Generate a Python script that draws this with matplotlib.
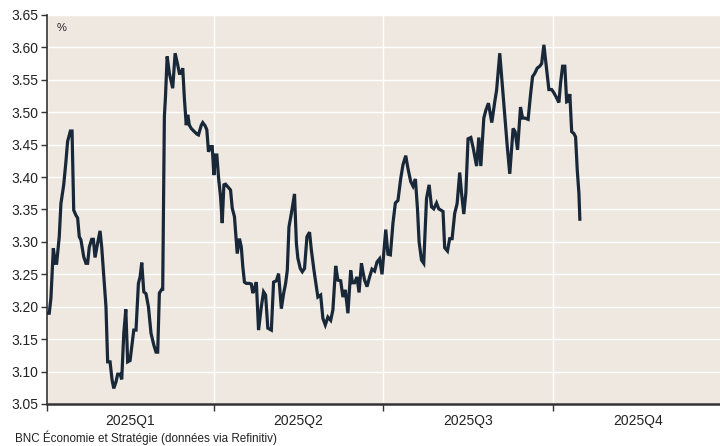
import matplotlib
matplotlib.use("Agg")
import matplotlib.pyplot as plt
import matplotlib.dates as mdates
import matplotlib.ticker as mticker
import pandas as pd
import numpy as np

plt.rcParams['font.family'] = ['Liberation Sans', 'DejaVu Sans']

# Days since 2025-01-01 and yield values (%)
days = [0.3, 1.2, 2.1, 3.4, 4.5, 5.2, 6.6, 7.5, 9.0, 10.2, 11.1, 12.6, 13.5, 14.4,
        15.6, 16.5, 17.4, 18.3, 19.8, 21.0, 21.9, 22.8, 24.1, 25.0, 25.9, 27.3,
        28.6, 29.5, 30.4, 31.8, 32.7, 34.0, 35.1, 36.0, 37.2, 38.1, 39.4, 40.3,
        41.4, 42.5, 43.5, 44.8, 45.7, 46.8, 48.0, 49.3, 50.2, 51.1, 52.2, 53.4,
        54.7, 56.1, 57.6, 58.8, 59.7, 60.6, 61.9, 62.4, 63.3, 63.9, 64.8, 66.0,
        67.8, 69.1, 70.5, 71.4, 72.4, 73.2, 74.1, 75.1, 75.9, 76.8, 77.8, 79.5,
        81.0, 81.7, 83.2, 84.0, 85.3, 86.2, 87.1, 88.2, 89.1, 90.0, 90.9, 91.6,
        92.5, 93.6, 94.5, 95.4, 96.3, 97.5, 99.0, 99.9, 101.1, 102.6, 103.8, 104.8,
        105.6, 106.5, 107.5, 109.2, 110.2, 111.0, 111.9, 112.9, 114.1, 115.6,
        116.8, 117.9, 119.1, 121.0, 122.2, 123.7, 124.9, 126.4, 127.6, 128.7,
        129.6, 130.5, 131.8, 133.5, 134.5, 135.3, 136.6, 137.7, 138.9, 140.2,
        141.6, 142.6, 144.0, 145.3, 146.1, 147.6, 148.8, 150.1, 151.5, 153.0,
        154.2, 155.7, 156.9, 158.4, 159.6, 160.9, 162.3, 163.8, 164.7, 165.9,
        167.2, 168.3, 169.6, 170.4, 171.3, 172.6, 174.0, 175.3, 176.7, 178.0,
        179.4, 180.7, 182.7, 183.9, 185.2, 186.6, 187.9, 189.3, 190.8, 192.0,
        193.5, 194.7, 196.2, 197.4, 198.7, 199.8, 200.7, 202.0, 203.2, 204.7,
        206.1, 207.4, 208.6, 210.1, 211.3, 212.4, 213.6, 214.5, 216.0, 217.2,
        218.5, 219.9, 221.2, 222.6, 223.6, 224.8, 225.9, 227.1, 228.6, 229.8,
        231.7, 232.9, 234.0, 235.6, 236.7, 238.1, 239.9, 241.5, 242.5, 244.2,
        245.5, 246.9, 248.2, 249.6, 250.9, 251.4, 252.5, 253.8, 255.4, 256.5,
        257.7, 259.5, 260.8, 261.9, 263.1, 264.4, 265.8, 266.8, 268.0, 269.5,
        270.7, 272.2, 273.4, 274.9, 276.1, 277.0, 278.1, 279.3, 280.3, 281.1,
        282.0, 283.0, 284.2, 285.1, 286.0, 286.9, 287.4]
values = [3.190, 3.190, 3.213, 3.290, 3.267, 3.267, 3.308, 3.359, 3.388, 3.424,
          3.455, 3.471, 3.471, 3.349, 3.341, 3.337, 3.308, 3.303, 3.277, 3.267,
          3.267, 3.292, 3.304, 3.304, 3.276, 3.298, 3.317, 3.292, 3.256, 3.200,
          3.115, 3.115, 3.087, 3.074, 3.084, 3.096, 3.096, 3.088, 3.159, 3.196,
          3.115, 3.117, 3.138, 3.164, 3.164, 3.236, 3.246, 3.268, 3.223, 3.220,
          3.200, 3.159, 3.141, 3.130, 3.130, 3.221, 3.227, 3.227, 3.493, 3.524,
          3.586, 3.560, 3.537, 3.591, 3.573, 3.560, 3.560, 3.568, 3.521, 3.480,
          3.496, 3.480, 3.475, 3.470, 3.466, 3.465, 3.480, 3.484, 3.479, 3.473,
          3.439, 3.447, 3.447, 3.403, 3.434, 3.434, 3.400, 3.370, 3.329, 3.388,
          3.389, 3.385, 3.380, 3.352, 3.339, 3.282, 3.305, 3.292, 3.262, 3.238,
          3.236, 3.236, 3.235, 3.221, 3.228, 3.238, 3.164, 3.200, 3.223, 3.218,
          3.167, 3.164, 3.238, 3.240, 3.251, 3.197, 3.220, 3.236, 3.256, 3.323,
          3.344, 3.374, 3.298, 3.275, 3.259, 3.254, 3.259, 3.308, 3.315, 3.287,
          3.256, 3.231, 3.215, 3.218, 3.182, 3.172, 3.184, 3.179, 3.195, 3.263,
          3.241, 3.240, 3.215, 3.226, 3.190, 3.256, 3.237, 3.237, 3.246, 3.222,
          3.267, 3.254, 3.241, 3.231, 3.246, 3.258, 3.255, 3.269, 3.274, 3.250,
          3.319, 3.281, 3.280, 3.329, 3.360, 3.364, 3.398, 3.419, 3.433, 3.413,
          3.393, 3.386, 3.397, 3.352, 3.300, 3.272, 3.267, 3.367, 3.388, 3.354,
          3.351, 3.360, 3.351, 3.349, 3.347, 3.291, 3.286, 3.305, 3.305, 3.344,
          3.359, 3.407, 3.375, 3.343, 3.375, 3.459, 3.461, 3.446, 3.417, 3.461,
          3.417, 3.491, 3.503, 3.514, 3.484, 3.516, 3.534, 3.591, 3.545, 3.496,
          3.449, 3.405, 3.457, 3.475, 3.470, 3.442, 3.508, 3.491, 3.491, 3.489,
          3.527, 3.555, 3.560, 3.568, 3.571, 3.575, 3.604, 3.565, 3.535, 3.535,
          3.530, 3.522, 3.515, 3.545, 3.571, 3.571, 3.516, 3.517, 3.528, 3.470,
          3.467, 3.462, 3.411, 3.375, 3.335]

quarter_labels = ["2025Q1", "2025Q2", "2025Q3", "2025Q4"]
y_ticks = [3.05, 3.10, 3.15, 3.20, 3.25, 3.30, 3.35, 3.40, 3.45, 3.50, 3.55, 3.60, 3.65]
unit_label = "%"
source_text = "BNC Économie et Stratégie (données via Refinitiv)"

base = pd.Timestamp("2025-01-01")
dates = base + pd.to_timedelta(days, unit="D")

fig = plt.figure(figsize=(7.2, 4.46), dpi=100)
ax = fig.add_axes([0.0653, 0.0942, 0.9347, 0.8722])
ax.set_facecolor("#EEE8E1")

ax.plot(dates, values, color="#182838", linewidth=2.3, solid_joinstyle="miter", zorder=3)

ax.set_ylim(3.05, 3.65)
ax.set_yticks(y_ticks)
ax.yaxis.set_major_formatter(mticker.FormatStrFormatter("%.2f"))
ax.set_xlim(pd.Timestamp("2025-01-01"), pd.Timestamp("2025-12-30"))

q_starts = pd.to_datetime(["2025-01-01", "2025-04-01", "2025-07-01", "2025-10-01"])
q_ends = pd.to_datetime(["2025-04-01", "2025-07-01", "2025-10-01", "2026-01-01"])
mids = [a + (b - a) / 2 for a, b in zip(q_starts, q_ends)]
ax.set_xticks(q_starts)
ax.set_xticklabels([])
ax.set_xticks(mids, minor=True)
ax.set_xticklabels(quarter_labels, minor=True)
ax.tick_params(axis="x", which="minor", length=0, labelsize=10, pad=7, colors="#222222")
ax.tick_params(axis="x", which="major", length=5, width=1, color="#333333", direction="out")
ax.tick_params(axis="y", length=4, width=1, color="#333333", labelsize=10, labelcolor="#222222", pad=2)

ax.grid(True, axis="y", color="white", linewidth=1.0, zorder=0)
ax.grid(True, axis="x", which="major", color="white", linewidth=1.0, zorder=0)
ax.set_axisbelow(True)

for s in ["top", "right"]:
    ax.spines[s].set_visible(False)
ax.spines["left"].set_color("#333333")
ax.spines["left"].set_linewidth(1.2)
ax.spines["bottom"].set_color("#333333")
ax.spines["bottom"].set_linewidth(1.8)

ax.text(0.015, 0.98, unit_label, transform=ax.transAxes, fontsize=8, color="#222222",
        ha="left", va="top")
fig.text(0.021, 0.002, source_text, fontsize=8.4, color="#222222", ha="left", va="bottom")

fig.savefig("out.png", dpi=100)
